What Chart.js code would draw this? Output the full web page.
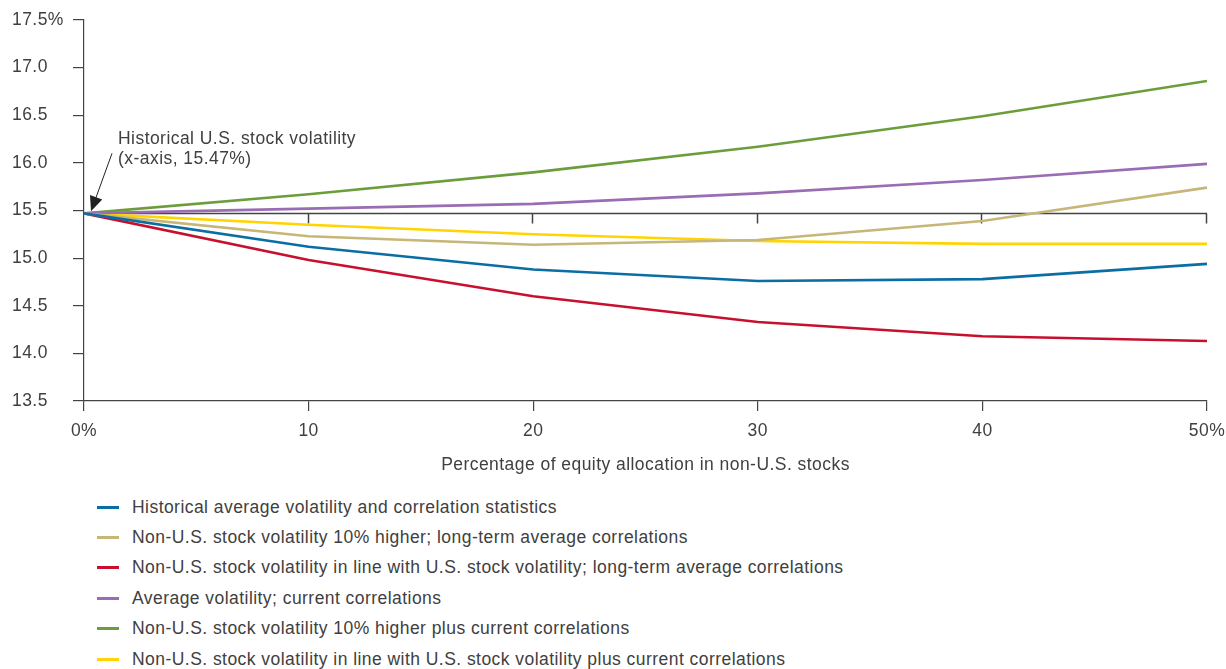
<!DOCTYPE html>
<html>
<head>
<meta charset="utf-8">
<script src="https://cdn.jsdelivr.net/npm/chart.js@4/dist/chart.umd.min.js"></script>
<style>
  html, body { margin: 0; padding: 0; background: #fff; }
  #wrap { position: relative; width: 1226px; height: 480px; }
  #legend { position: absolute; top: 492px; left: 97px; font-family: "Liberation Sans", Arial, sans-serif; font-size: 17.5px; letter-spacing: 0.45px; color: #404040; }
  #legend div { height: 30.4px; display: flex; align-items: center; }
  #legend span.sw { display: inline-block; width: 22px; height: 3px; margin-right: 13px; }
</style>
</head>
<body>
<div id="wrap"><canvas id="chart"></canvas></div>
<div id="legend"></div>
<script>
// allocation to non-U.S. stocks (%)
const allocation = [0, 10, 20, 30, 40, 50];

// portfolio volatility (%) for each scenario
const historicalAvg = [15.47, 15.12, 14.88, 14.76, 14.78, 14.94];
const higherVolLongTerm = [15.47, 15.23, 15.14, 15.19, 15.39, 15.74];
const inLineLongTerm = [15.47, 14.98, 14.60, 14.33, 14.18, 14.13];
const avgVolCurrent = [15.47, 15.52, 15.57, 15.68, 15.82, 15.99];
const higherVolCurrent = [15.47, 15.67, 15.90, 16.17, 16.49, 16.86];
const inLineCurrent = [15.47, 15.35, 15.25, 15.18, 15.15, 15.15];

const seriesLabels = [
  "Historical average volatility and correlation statistics",
  "Non-U.S. stock volatility 10% higher; long-term average correlations",
  "Non-U.S. stock volatility in line with U.S. stock volatility; long-term average correlations",
  "Average volatility; current correlations",
  "Non-U.S. stock volatility 10% higher plus current correlations",
  "Non-U.S. stock volatility in line with U.S. stock volatility plus current correlations"
];
const seriesValues = [historicalAvg, higherVolLongTerm, inLineLongTerm, avgVolCurrent, higherVolCurrent, inLineCurrent];
const seriesColors = ["#0a6ea4", "#c6b677", "#c8102e", "#9a6cb4", "#6b9e3a", "#ffd400"];

const baseline = 15.47;
const yTicks = [13.5, 14.0, 14.5, 15.0, 15.5, 16.0, 16.5, 17.0, 17.5];
const xTitle = "Percentage of equity allocation in non-U.S. stocks";
const noteLines = ["Historical U.S. stock volatility", "(x-axis, 15.47%)"];

const font = "'Liberation Sans', Arial, sans-serif";
const textColor = "#404040";
const axisColor = "#444";

// draw the 15.47% reference axis with small ticks under it
const baselinePlugin = {
  id: "baseline",
  beforeDraw(chart) {
    chart.ctx.letterSpacing = "0.45px";
  },
  beforeDatasetsDraw(chart) {
    const { ctx, scales: { x, y } } = chart;
    const py = Math.round(y.getPixelForValue(baseline)) + 0.5;
    ctx.save();
    ctx.strokeStyle = axisColor;
    ctx.lineWidth = 1.5;
    ctx.beginPath();
    ctx.moveTo(x.getPixelForValue(0), py);
    ctx.lineTo(x.getPixelForValue(50), py);
    allocation.slice(1).forEach(v => {
      const px = Math.round(x.getPixelForValue(v)) - 0.5;
      ctx.moveTo(px, py);
      ctx.lineTo(px, py + 10);
    });
    ctx.stroke();
    ctx.restore();
  },
  afterDatasetsDraw(chart) {
    const { ctx, scales: { x, y } } = chart;
    const x0 = x.getPixelForValue(0);
    const y0 = y.getPixelForValue(baseline);
    ctx.save();
    ctx.fillStyle = textColor;
    ctx.font = "17.5px " + font;
    ctx.textBaseline = "middle";
    ctx.fillText(noteLines[0], x0 + 34, y0 - 74);
    ctx.fillText(noteLines[1], x0 + 34, y0 - 54);
    // arrow
    const tx = x0 + 7, ty = y0 - 2;
    const sx = x0 + 28, sy = y0 - 60;
    const ang = Math.atan2(ty - sy, tx - sx);
    ctx.strokeStyle = "#222";
    ctx.lineWidth = 1;
    ctx.beginPath();
    ctx.moveTo(sx, sy);
    ctx.lineTo(tx - 12 * Math.cos(ang), ty - 12 * Math.sin(ang));
    ctx.stroke();
    ctx.fillStyle = "#222";
    ctx.beginPath();
    ctx.moveTo(tx, ty);
    ctx.lineTo(tx - 15 * Math.cos(ang) + 6.5 * Math.sin(ang), ty - 15 * Math.sin(ang) - 6.5 * Math.cos(ang));
    ctx.lineTo(tx - 15 * Math.cos(ang) - 6.5 * Math.sin(ang), ty - 15 * Math.sin(ang) + 6.5 * Math.cos(ang));
    ctx.closePath();
    ctx.fill();
    ctx.restore();
  }
};

const datasets = seriesValues.map((vals, i) => ({
  label: seriesLabels[i],
  data: vals.map((v, j) => ({ x: allocation[j], y: v })),
  borderColor: seriesColors[i],
  borderWidth: 2.6,
  pointRadius: 0,
  tension: 0,
  fill: false
}));

new Chart(document.getElementById("chart"), {
  type: "line",
  data: { datasets },
  plugins: [baselinePlugin],
  options: {
    responsive: true,
    maintainAspectRatio: false,
    animation: false,
    layout: { padding: { top: 20, right: 19, left: 12, bottom: 0 } },
    plugins: { legend: { display: false }, tooltip: { enabled: false } },
    scales: {
      x: {
        type: "linear",
        min: 0,
        max: 50,
        afterBuildTicks: s => { s.ticks = allocation.map(v => ({ value: v })); },
        afterFit: s => { s.height = 79; s.paddingRight = 0; s.paddingLeft = 0; },
        ticks: {
          color: textColor,
          font: { family: font, size: 17.5 },
          padding: 10,
          maxRotation: 0,
          callback: v => (v === 0 || v === 50) ? v + "%" : String(v)
        },
        grid: { drawOnChartArea: false, tickLength: 10, color: axisColor, lineWidth: 1.2 },
        border: { color: axisColor, width: 1.2 },
        title: {
          display: true,
          text: xTitle,
          color: textColor,
          font: { family: font, size: 17.5 },
          padding: { top: 5 }
        }
      },
      y: {
        min: 13.5,
        max: 17.5,
        afterBuildTicks: s => { s.ticks = yTicks.map(v => ({ value: v })); },
        afterFit: s => { s.width = 72; },
        ticks: {
          color: textColor,
          font: { family: font, size: 17.5 },
          crossAlign: "far",
          callback: v => v === 17.5 ? "17.5%" : v.toFixed(1)
        },
        grid: { drawOnChartArea: false, tickLength: 11, color: axisColor, lineWidth: 1.2 },
        border: { color: axisColor, width: 1.2 }
      }
    }
  }
});

const legend = document.getElementById("legend");
seriesLabels.forEach((lab, i) => {
  const row = document.createElement("div");
  row.innerHTML = '<span class="sw" style="background:' + seriesColors[i] + '"></span>' + lab;
  legend.appendChild(row);
});
</script>
</body>
</html>
